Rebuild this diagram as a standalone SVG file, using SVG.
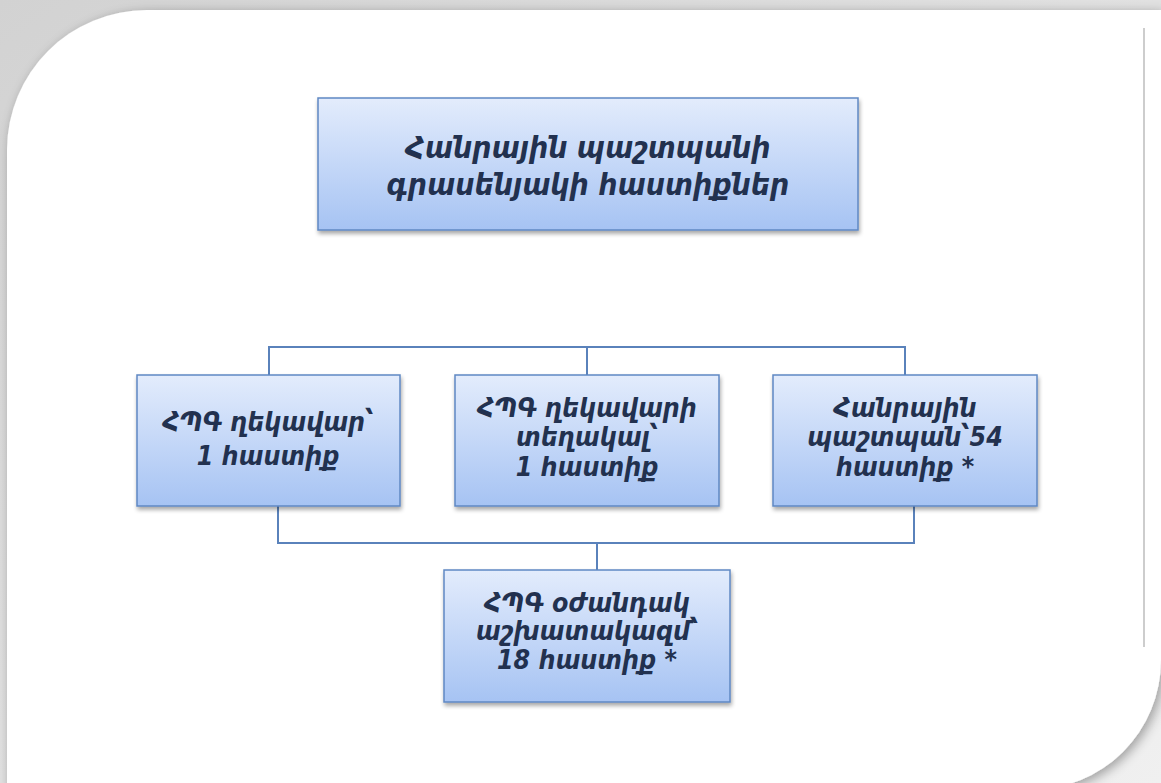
<svg xmlns="http://www.w3.org/2000/svg" width="1161" height="783" viewBox="0 0 1161 783">
  <defs>
    <linearGradient id="bg" x1="0" y1="0" x2="1" y2="1">
      <stop offset="0" stop-color="#d2d2d2"/>
      <stop offset="1" stop-color="#f0f0f0"/>
    </linearGradient>
    <linearGradient id="boxfill" x1="0" y1="0" x2="0" y2="1">
      <stop offset="0" stop-color="#e3ecfc"/>
      <stop offset="1" stop-color="#a6c3f3"/>
    </linearGradient>
    <filter id="pageShadow" x="-5%" y="-5%" width="110%" height="110%">
      <feGaussianBlur in="SourceAlpha" stdDeviation="6"/>
      <feOffset dx="3" dy="3" result="b"/>
      <feComponentTransfer><feFuncA type="linear" slope="0.35"/></feComponentTransfer>
      <feMerge><feMergeNode/><feMergeNode in="SourceGraphic"/></feMerge>
    </filter>
    <filter id="boxShadow" x="-5%" y="-10%" width="110%" height="125%">
      <feGaussianBlur in="SourceAlpha" stdDeviation="2"/>
      <feOffset dx="1" dy="3" result="b"/>
      <feComponentTransfer><feFuncA type="linear" slope="0.35"/></feComponentTransfer>
      <feMerge><feMergeNode/><feMergeNode in="SourceGraphic"/></feMerge>
    </filter>
  </defs>
  <style>
    .box { fill: url(#boxfill); stroke: #5f88c3; stroke-width: 1.5; filter: url(#boxShadow); }
    .lbl { font-family: "DejaVu Sans Condensed", "DejaVu Sans", sans-serif; font-weight: bold; font-style: italic; fill: #22314f; text-anchor: middle; }
    .conn { fill: none; stroke: #5a82bb; stroke-width: 2; }
  </style>

  <rect x="0" y="0" width="1161" height="783" fill="url(#bg)"/>
  <path d="M7,150 A140,140 0 0 1 147,10 H1161 V660 A130,130 0 0 1 1031,790 H7 Z" fill="#ffffff" filter="url(#pageShadow)"/>
  <line x1="1144" y1="28" x2="1144" y2="647" stroke="#bdbdbd" stroke-width="1.5"/>

  <g id="connectors">
    <path class="conn" d="M269,375 V347 H905 V375 M587,347 V375"/>
    <path class="conn" d="M278,506 V543 H914 V506 M597,543 V570"/>
  </g>

  <g id="node-top">
    <rect class="box" x="318" y="98" width="540" height="132"/>
    <text class="lbl" font-size="30" x="588"><tspan x="588" y="158">Հանրային պաշտպանի</tspan><tspan x="588" y="195">գրասենյակի հաստիքներ</tspan></text>
  </g>

  <g id="node-head">
    <rect class="box" x="137" y="375" width="263" height="131"/>
    <text class="lbl" font-size="26.5" x="268"><tspan x="268" y="431">ՀՊԳ ղեկավար՝</tspan><tspan x="268" y="465">1 հաստիք</tspan></text>
  </g>

  <g id="node-deputy">
    <rect class="box" x="455" y="375" width="264" height="131"/>
    <text class="lbl" font-size="26.5" x="587"><tspan x="587" y="417">ՀՊԳ ղեկավարի</tspan><tspan x="587" y="446">տեղակալ՝</tspan><tspan x="587" y="476">1 հաստիք</tspan></text>
  </g>

  <g id="node-defenders">
    <rect class="box" x="773" y="375" width="264" height="131"/>
    <text class="lbl" font-size="26.5" x="905"><tspan x="905" y="417">Հանրային</tspan><tspan x="905" y="446">պաշտպան՝54</tspan><tspan x="905" y="476">հաստիք *</tspan></text>
  </g>

  <g id="node-staff">
    <rect class="box" x="444" y="570" width="286" height="132"/>
    <text class="lbl" font-size="26.5" x="587"><tspan x="587" y="612">ՀՊԳ օժանդակ</tspan><tspan x="587" y="640">աշխատակազմ՝</tspan><tspan x="587" y="669">18 հաստիք *</tspan></text>
  </g>
</svg>
